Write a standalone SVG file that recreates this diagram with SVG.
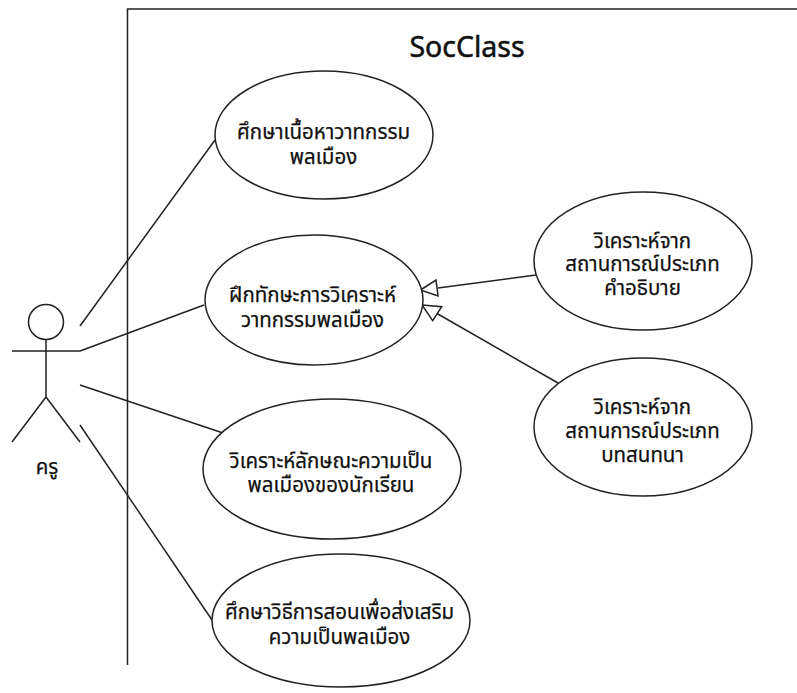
<svg xmlns="http://www.w3.org/2000/svg" width="797" height="693" viewBox="0 0 797 693">
<style>
.s{fill:none;stroke:#222;stroke-width:1.5}
.e{fill:#fff;stroke:#222;stroke-width:1.5}
.h{fill:#fff;stroke:#222;stroke-width:1.5}
text{font-family:"Noto Sans Thai","Noto Sans Thai UI","Noto Sans","Liberation Sans",sans-serif;font-size:20.5px;fill:#111;text-anchor:middle;stroke:#111;stroke-width:.25}
</style>
<rect width="797" height="693" fill="#fff"/>
<g id="frame">
<path class="s" d="M127.5 665V9H797"/>
<text x="467" y="56.5" style="font-size:28.5px;stroke-width:.5">SocClass</text>
</g>
<g id="connectors">
<path class="s" d="M80 326L215 140"/>
<path class="s" d="M80 351L204 305"/>
<path class="s" d="M80 385L223 433"/>
<path class="s" d="M80 425L212 620"/>
<path class="s" d="M536 275L438 288"/>
<path class="h" d="M420.5 290L436 280L438 296Z"/>
<path class="s" d="M558 383L437 313.5"/>
<path class="h" d="M422 305L441.7 306.7L432.7 320.7Z"/>
</g>
<g id="actor">
<circle class="s" cx="46" cy="322" r="17.5"/>
<path class="s" d="M12 351H80M46 339.5V397M46 397L12 442M46 397L80 442"/>
<text x="47" y="474">ครู</text>
</g>
<g id="uc1"><ellipse class="e" cx="324" cy="135" rx="109" ry="64"/>
<text x="323.5"><tspan x="323.5" y="139">ศึกษาเนื้อหาวาทกรรม</tspan><tspan x="323.5" y="164">พลเมือง</tspan></text></g>
<g id="uc2"><ellipse class="e" cx="314" cy="300" rx="109" ry="65"/>
<text x="312.5"><tspan x="312.5" y="302">ฝึกทักษะการวิเคราะห์</tspan><tspan x="312.5" y="327">วาทกรรมพลเมือง</tspan></text></g>
<g id="uc3"><ellipse class="e" cx="332" cy="469" rx="129" ry="70"/>
<text x="331"><tspan x="331" y="468">วิเคราะห์ลักษณะความเป็น</tspan><tspan x="331" y="492">พลเมืองของนักเรียน</tspan></text></g>
<g id="uc4"><ellipse class="e" cx="341" cy="620.5" rx="129" ry="66.5"/>
<text x="339.5"><tspan x="339.5" y="619">ศึกษาวิธีการสอนเพื่อส่งเสริม</tspan><tspan x="339.5" y="644">ความเป็นพลเมือง</tspan></text></g>
<g id="uc5"><ellipse class="e" cx="643" cy="261" rx="109" ry="69"/>
<text x="642.5"><tspan x="642.5" y="248">วิเคราะห์จาก</tspan><tspan x="642.5" y="271">สถานการณ์ประเภท</tspan><tspan x="642.5" y="295">คำอธิบาย</tspan></text></g>
<g id="uc6"><ellipse class="e" cx="643" cy="427" rx="109" ry="69"/>
<text x="642.5"><tspan x="642.5" y="414">วิเคราะห์จาก</tspan><tspan x="642.5" y="438">สถานการณ์ประเภท</tspan><tspan x="642.5" y="462">บทสนทนา</tspan></text></g>
</svg>
